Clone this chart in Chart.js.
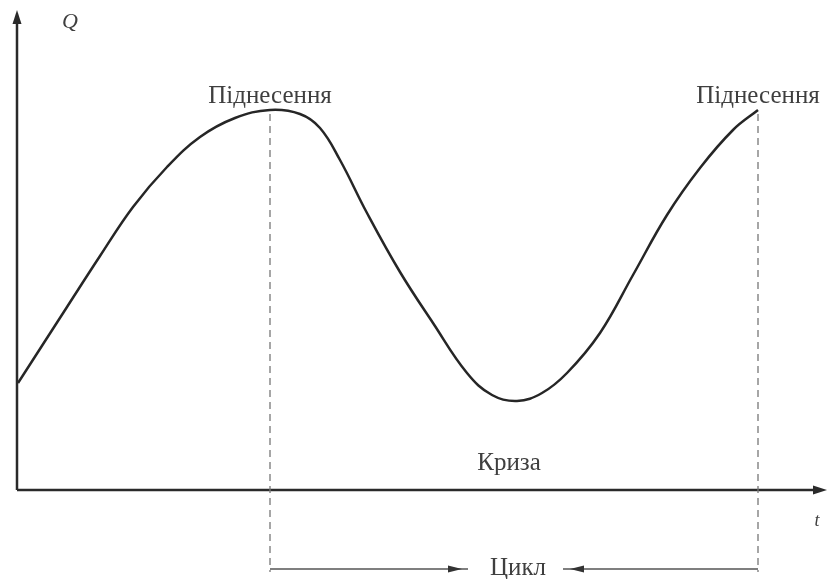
<!DOCTYPE html>
<html>
<head>
<meta charset="utf-8">
<script src="https://cdn.jsdelivr.net/npm/chart.js@4"></script>
<style>
  body { margin: 0; background: #fff; }
  #wrap { width: 827px; height: 579px; }
</style>
</head>
<body>
<div id="wrap"><canvas id="cycleChart" width="827" height="579"></canvas></div>
<script>
// Economic cycle: output Q over time t
var timePoints = [1, 50, 83, 116, 150, 183, 218, 253, 283, 303, 323, 350, 383, 416, 450, 475, 500, 525, 550, 583, 616, 650, 683, 716, 741];
var outputValues = [107, 183, 234, 283, 323, 353, 372, 380, 376, 362, 330, 277, 218, 167, 117, 95, 89, 97, 117, 157, 215, 275, 322, 360, 380];

var peakIndexes = [7, 24];
var troughIndex = 16;
var peakLabel = "Піднесення";
var crisisLabel = "Криза";
var cycleLabel = "Цикл";
var axisLabelY = "Q";
var axisLabelX = "t";

var points = timePoints.map(function (t, i) {
    return { x: t, y: outputValues[i] };
});

function arrowHead(ctx, x, y, dir, len, half) {
    // dir: unit vector the arrow points to
    ctx.beginPath();
    ctx.moveTo(x, y);
    ctx.lineTo(x - dir[0] * len - dir[1] * half, y - dir[1] * len + dir[0] * half);
    ctx.lineTo(x - dir[0] * len + dir[1] * half, y - dir[1] * len - dir[0] * half);
    ctx.closePath();
    ctx.fill();
}

var decorations = {
    id: "decorations",
    afterDraw: function (chart) {
        var ctx = chart.ctx;
        var xs = chart.scales.x;
        var ys = chart.scales.y;
        var area = chart.chartArea;
        var x0 = xs.getPixelForValue(0);
        var y0 = ys.getPixelForValue(0);

        ctx.save();

        // axes with arrows
        ctx.strokeStyle = "#2a2a2a";
        ctx.fillStyle = "#2a2a2a";
        ctx.lineWidth = 2.5;
        ctx.beginPath();
        ctx.moveTo(x0, y0);
        ctx.lineTo(x0, area.top + 8);
        ctx.moveTo(x0, y0);
        ctx.lineTo(area.right - 8, y0);
        ctx.stroke();
        arrowHead(ctx, x0, area.top, [0, -1], 14, 4.5);
        arrowHead(ctx, area.right, y0, [1, 0], 14, 4.5);

        // dashed cycle boundaries through the peaks
        var bottomY = 572;
        ctx.strokeStyle = "#777";
        ctx.lineWidth = 1.3;
        ctx.setLineDash([7, 5]);
        peakIndexes.forEach(function (idx) {
            var px = xs.getPixelForValue(timePoints[idx]);
            var py = ys.getPixelForValue(outputValues[idx]);
            ctx.beginPath();
            ctx.moveTo(px, py + 4);
            ctx.lineTo(px, bottomY);
            ctx.stroke();
        });
        ctx.setLineDash([]);

        // text
        ctx.fillStyle = "#3f3f3f";
        ctx.textAlign = "center";
        ctx.textBaseline = "middle";
        ctx.font = "25px 'Liberation Serif', 'DejaVu Serif', serif";
        peakIndexes.forEach(function (idx) {
            var px = xs.getPixelForValue(timePoints[idx]);
            var py = ys.getPixelForValue(outputValues[idx]);
            ctx.fillText(peakLabel, px, py - 14);
        });
        var tx = xs.getPixelForValue(timePoints[troughIndex]);
        ctx.fillText(crisisLabel, tx - 8, y0 - 27);

        var leftX = xs.getPixelForValue(timePoints[peakIndexes[0]]);
        var rightX = xs.getPixelForValue(timePoints[peakIndexes[1]]);
        var cycY = 569;
        var midX = (leftX + rightX) / 2 + 4;
        ctx.fillText(cycleLabel, midX, cycY - 1);

        ctx.font = "italic 22px 'Liberation Serif', 'DejaVu Serif', serif";
        ctx.fillText(axisLabelY, x0 + 53, 22);
        ctx.font = "italic 18px 'Liberation Serif', 'DejaVu Serif', serif";
        ctx.fillText(axisLabelX, area.right - 10, y0 + 31);

        // cycle arrows
        ctx.strokeStyle = "#555";
        ctx.fillStyle = "#333";
        ctx.lineWidth = 1.3;
        ctx.beginPath();
        ctx.moveTo(leftX, cycY);
        ctx.lineTo(midX - 50, cycY);
        ctx.moveTo(rightX, cycY);
        ctx.lineTo(midX + 45, cycY);
        ctx.stroke();
        arrowHead(ctx, midX - 56, cycY, [1, 0], 14, 3.5);
        arrowHead(ctx, midX + 52, cycY, [-1, 0], 14, 3.5);

        ctx.restore();
    }
};

new Chart(document.getElementById("cycleChart"), {
    type: "line",
    data: {
        datasets: [
            {
                data: points,
                borderColor: "#262626",
                borderWidth: 2.5,
                pointRadius: 0,
                fill: false,
                tension: 0.4,
            },
        ],
    },
    options: {
        responsive: false,
        animation: false,
        layout: { padding: { left: 17, right: 0, top: 10, bottom: 89 } },
        scales: {
            x: { type: "linear", min: 0, max: 810, display: false },
            y: { min: 0, max: 480, display: false },
        },
        plugins: {
            legend: { display: false },
            tooltip: { enabled: false },
        },
    },
    plugins: [decorations],
});
</script>
</body>
</html>
